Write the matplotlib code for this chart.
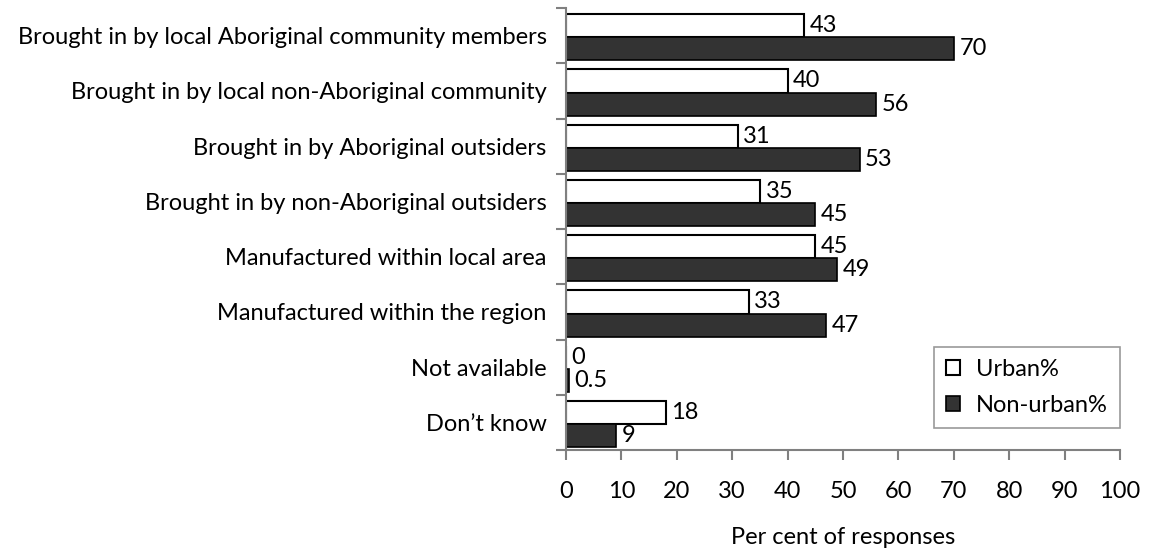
import numpy as np
import matplotlib.pyplot as plt

plt.rcParams['font.family'] = ['Lato', 'DejaVu Sans']

categories = ["Brought in by local Aboriginal community members",
              "Brought in by local non-Aboriginal community",
              "Brought in by Aboriginal outsiders",
              "Brought in by non-Aboriginal outsiders",
              "Manufactured within local area",
              "Manufactured within the region",
              "Not available",
              "Don\u2019t know"]
urban = [43, 40, 31, 35, 45, 33, 0, 18]
non_urban = [70, 56, 53, 45, 49, 47, 0.5, 9]
xticks = [0, 10, 20, 30, 40, 50, 60, 70, 80, 90, 100]

fs = 17

fig = plt.figure(figsize=(11.49, 5.48), dpi=100)
ax = fig.add_axes([0.4926, 0.1788, 0.4822, 0.8066])

y = np.arange(len(categories))
h = 0.42
ax.barh(y - 0.39, urban, height=h, align='edge', color='white',
        edgecolor='black', linewidth=1.5, label='Urban%')
ax.barh(y + 0.03, non_urban, height=h, align='edge', color='#333333',
        edgecolor='black', linewidth=1.2, label='Non-urban%')

# value labels
for i in range(len(categories)):
    ax.text(urban[i] + 1.0, y[i] - 0.18, str(urban[i]), va='center',
            ha='left', fontsize=fs)
    ax.text(non_urban[i] + 1.0, y[i] + 0.24, str(non_urban[i]), va='center',
            ha='left', fontsize=fs)

ax.set_xlim(0, 100)
ax.set_ylim(len(categories) - 0.5, -0.5)
ax.set_xticks(xticks)
ax.set_xticklabels([str(t) for t in xticks], fontsize=fs)
ax.set_yticks(y)
ax.set_yticklabels(categories, fontsize=fs)
ax.tick_params(axis='y', length=0, pad=14)
ax.set_yticks(np.arange(len(categories) + 1) - 0.5, minor=True)
ax.tick_params(axis='y', which='minor', length=7, color='#808080', width=1.5)
ax.tick_params(axis='x', length=7, color='#808080', width=1.5, pad=15)
ax.set_xlabel('Per cent of responses', fontsize=fs, labelpad=18)

for s in ['top', 'right']:
    ax.spines[s].set_visible(False)
for s in ['left', 'bottom']:
    ax.spines[s].set_color('#808080')
    ax.spines[s].set_linewidth(1.5)

leg = ax.legend(loc='lower right', bbox_to_anchor=(1.0, 0.05), fontsize=fs,
                fancybox=False, edgecolor='#808080', handlelength=0.6,
                handleheight=0.6, handletextpad=0.7, borderpad=0.5,
                labelspacing=0.65, borderaxespad=0)
leg.get_frame().set_linewidth(1.2)

fig.savefig('out.png', dpi=100)
